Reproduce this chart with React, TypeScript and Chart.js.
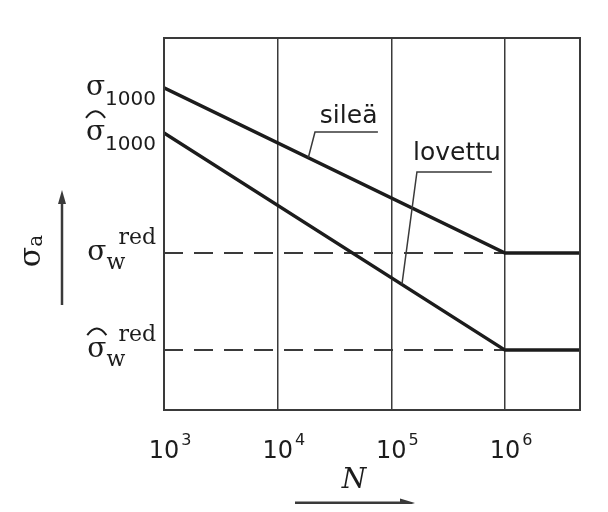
import { useEffect, useRef } from "react";
import { Chart, registerables } from "chart.js";

Chart.register(...registerables);

// Load cycles N (log axis) and stress amplitude σa (relative units, 0..100)
const N_MIN = 1e3;
const N_MAX = 4.57e6;
const N_KNEE = 1e6;
const decadeExponents = [3, 4, 5, 6];

const SIGMA_1000 = 86.6;
const SIGMA_1000_HAT = 74.5;
const SIGMA_W_RED = 42.2;
const SIGMA_W_RED_HAT = 16.1;

// Smooth specimen ("sileä") and notched specimen ("lovettu") S-N curves
const smoothN = [N_MIN, N_KNEE, N_MAX];
const smoothS = [SIGMA_1000, SIGMA_W_RED, SIGMA_W_RED];
const notchedN = [N_MIN, N_KNEE, N_MAX];
const notchedS = [SIGMA_1000_HAT, SIGMA_W_RED_HAT, SIGMA_W_RED_HAT];

// Dashed reference levels of the reduced fatigue limits
const refN = [N_MIN, N_KNEE];
const refUpperS = [SIGMA_W_RED, SIGMA_W_RED];
const refLowerS = [SIGMA_W_RED_HAT, SIGMA_W_RED_HAT];

// Stress-axis labels: σ (with optional hat), subscript and superscript
const yLabelValues = [SIGMA_1000, SIGMA_1000_HAT, SIGMA_W_RED, SIGMA_W_RED_HAT];
const yLabelHats = [false, true, false, true];
const yLabelSubs = ["1000", "1000", "w", "w"];
const yLabelSups = ["", "", "red", "red"];

// Curve callouts: text position, leader elbow, leader end, anchor on curve
const noteTexts = ["sileä", "lovettu"];
const noteTextN = [23500, 155000];
const noteTextS = [77.2, 67.2];
const noteElbowN = [21300, 168000];
const noteElbowS = [74.7, 64.0];
const noteEndN = [76200, 767000];
const noteAnchorN = [18600, 124000];
const noteCurve = [0, 1];

const INK = "#1c1c1c";
const GRID = "#3a3a3a";
const SANS = "'DejaVu Sans', sans-serif";
const SERIF = "'DejaVu Serif', serif";

const toPoints = (xs: number[], ys: number[]) => xs.map((x, i) => ({ x, y: ys[i] }));

// σ value on a curve at load count n (piecewise linear in log N)
function curveValueAt(ns: number[], ss: number[], n: number) {
  const ln = Math.log10(n);
  for (let i = 0; i < ns.length - 1; i++) {
    const a = Math.log10(ns[i]);
    const b = Math.log10(ns[i + 1]);
    if (ln >= a && ln <= b) {
      const t = (ln - a) / (b - a);
      return ss[i] + t * (ss[i + 1] - ss[i]);
    }
  }
  return ss[ss.length - 1];
}

const decorations = {
  id: "snDecorations",
  afterDraw(chart: any) {
    const ctx: CanvasRenderingContext2D = chart.ctx;
    const { left, right, top, bottom } = chart.chartArea;
    const xs = chart.scales.x;
    const ys = chart.scales.y;
    ctx.save();

    // frame
    ctx.strokeStyle = GRID;
    ctx.lineWidth = 2;
    ctx.strokeRect(left, top, right - left, bottom - top);

    // N tick labels: 10^k
    ctx.fillStyle = INK;
    ctx.textBaseline = "alphabetic";
    decadeExponents.forEach((k) => {
      const x = xs.getPixelForValue(Math.pow(10, k));
      ctx.font = `24px ${SANS}`;
      ctx.textAlign = "center";
      const w = ctx.measureText("10").width;
      const base = bottom + 48;
      ctx.fillText("10", x, base);
      ctx.font = `16px ${SANS}`;
      ctx.textAlign = "left";
      ctx.fillText(String(k), x + w / 2 + 2, base - 13);
    });

    // σ tick labels
    yLabelValues.forEach((v, i) => {
      const y = ys.getPixelForValue(v);
      const base = y + 7;
      const sigmaFont = `28px ${SERIF}`;
      ctx.font = sigmaFont;
      const sw = ctx.measureText("σ").width;
      const numericSub = /^\d+$/.test(yLabelSubs[i]);
      const subFont = numericSub ? `20px ${SANS}` : `22px ${SERIF}`;
      const supFont = `22px ${SERIF}`;
      ctx.font = subFont;
      const subW = ctx.measureText(yLabelSubs[i]).width;
      ctx.font = supFont;
      const supW = yLabelSups[i] ? ctx.measureText(yLabelSups[i]).width : 0;
      const supOff = 12;
      const groupW = sw + Math.max(subW, yLabelSups[i] ? supOff + supW : 0);
      const x0 = left - 8 - groupW;
      ctx.textAlign = "left";
      ctx.font = sigmaFont;
      ctx.fillText("σ", x0, base);
      if (yLabelHats[i]) {
        ctx.beginPath();
        ctx.lineWidth = 2;
        ctx.strokeStyle = INK;
        ctx.moveTo(x0, base - 22);
        ctx.quadraticCurveTo(x0 + sw / 2, base - 35, x0 + sw, base - 22);
        ctx.stroke();
      }
      ctx.font = subFont;
      ctx.fillText(yLabelSubs[i], x0 + sw, base + (numericSub ? 10 : 9));
      if (yLabelSups[i]) {
        ctx.font = supFont;
        ctx.fillText(yLabelSups[i], x0 + sw + supOff, base - 16);
      }
    });

    // vertical axis title σa with upward arrow
    ctx.save();
    ctx.translate(left - 124, top + 213);
    ctx.rotate(-Math.PI / 2);
    ctx.font = `30px ${SERIF}`;
    const sigW = ctx.measureText("σ").width;
    ctx.font = `20px ${SERIF}`;
    const aW = ctx.measureText("a").width;
    const tx = -(sigW + aW) / 2;
    ctx.font = `30px ${SERIF}`;
    ctx.fillText("σ", tx, 0);
    ctx.font = `20px ${SERIF}`;
    ctx.fillText("a", tx + sigW, 2);
    ctx.restore();

    const ax = left - 102;
    ctx.strokeStyle = GRID;
    ctx.fillStyle = GRID;
    ctx.lineWidth = 2.5;
    ctx.beginPath();
    ctx.moveTo(ax, top + 267);
    ctx.lineTo(ax, top + 164);
    ctx.stroke();
    ctx.beginPath();
    ctx.moveTo(ax, top + 152);
    ctx.lineTo(ax - 4, top + 166);
    ctx.lineTo(ax + 4, top + 166);
    ctx.closePath();
    ctx.fill();

    // horizontal axis title N with arrow
    ctx.fillStyle = INK;
    ctx.font = `italic 28px ${SERIF}`;
    ctx.textAlign = "center";
    ctx.fillText("N", left + 190, bottom + 78);
    const ay = bottom + 93;
    ctx.strokeStyle = GRID;
    ctx.fillStyle = GRID;
    ctx.lineWidth = 3;
    ctx.beginPath();
    ctx.moveTo(left + 131, ay);
    ctx.lineTo(left + 237, ay);
    ctx.stroke();
    ctx.beginPath();
    ctx.moveTo(left + 251, ay);
    ctx.lineTo(left + 236, ay - 4.5);
    ctx.lineTo(left + 236, ay + 4.5);
    ctx.closePath();
    ctx.fill();

    // callouts with leader lines
    const curvesN = [smoothN, notchedN];
    const curvesS = [smoothS, notchedS];
    noteTexts.forEach((txt, i) => {
      const c = noteCurve[i];
      const anchorS = curveValueAt(curvesN[c], curvesS[c], noteAnchorN[i]);
      ctx.strokeStyle = GRID;
      ctx.lineWidth = 1.5;
      ctx.beginPath();
      ctx.moveTo(xs.getPixelForValue(noteAnchorN[i]), ys.getPixelForValue(anchorS));
      ctx.lineTo(xs.getPixelForValue(noteElbowN[i]), ys.getPixelForValue(noteElbowS[i]));
      ctx.lineTo(xs.getPixelForValue(noteEndN[i]), ys.getPixelForValue(noteElbowS[i]));
      ctx.stroke();
      ctx.fillStyle = INK;
      ctx.font = `25px ${SANS}`;
      ctx.textAlign = "left";
      ctx.fillText(txt, xs.getPixelForValue(noteTextN[i]), ys.getPixelForValue(noteTextS[i]));
    });

    ctx.restore();
  },
};

export default function App() {
  const canvasRef = useRef<HTMLCanvasElement | null>(null);

  useEffect(() => {
    if (!canvasRef.current) return;
    const solid = { borderColor: INK, borderWidth: 3.5, pointRadius: 0, tension: 0, fill: false };
    const dashed = { borderColor: GRID, borderWidth: 2, borderDash: [19, 11], pointRadius: 0, tension: 0, fill: false };
    const chart = new Chart(canvasRef.current, {
      type: "line",
      data: {
        datasets: [
          { label: "sileä", data: toPoints(smoothN, smoothS), ...solid },
          { label: "lovettu", data: toPoints(notchedN, notchedS), ...solid },
          { label: "σw red", data: toPoints(refN, refUpperS), ...dashed },
          { label: "σ̂w red", data: toPoints(refN, refLowerS), ...dashed },
        ],
      },
      options: {
        responsive: false,
        animation: false,
        events: [],
        layout: { padding: { left: 164, top: 38, right: 28, bottom: 102 } },
        plugins: { legend: { display: false }, tooltip: { enabled: false } },
        scales: {
          x: {
            type: "logarithmic",
            min: N_MIN,
            max: N_MAX,
            afterBuildTicks: (scale: any) => {
              scale.ticks = decadeExponents.map((k) => ({ value: Math.pow(10, k) }));
            },
            ticks: { display: false },
            grid: { color: GRID, lineWidth: 1.5, drawTicks: false },
            border: { display: false },
          },
          y: {
            type: "linear",
            min: 0,
            max: 100,
            display: false,
          },
        },
      },
      plugins: [decorations],
    });
    return () => chart.destroy();
  }, []);

  // the canvas covers the whole 608×512 page, cancelling the body margin
  return (
    <canvas
      ref={canvasRef}
      width={608}
      height={512}
      style={{ display: "block", margin: "-8px" }}
    />
  );
}
